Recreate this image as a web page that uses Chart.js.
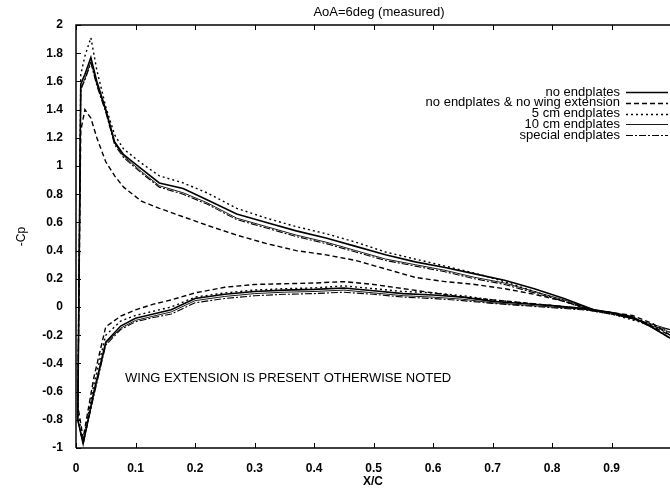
<!DOCTYPE html>
<html>
<head>
<meta charset="utf-8">
<script src="https://cdn.jsdelivr.net/npm/chart.js@4.4.1/dist/chart.umd.min.js"></script>
<style>
  html, body { margin: 0; padding: 0; background: #fff; }
  #wrap { width: 670px; height: 489px; }
</style>
</head>
<body>
<div id="wrap"><canvas id="cp"></canvas></div>
<script>
// upper surface, trailing edge -> leading edge
const xUpper = [0.998, 0.97, 0.935, 0.9, 0.87, 0.82, 0.77, 0.72, 0.67, 0.62, 0.57, 0.52, 0.47, 0.42,
                0.37, 0.32, 0.27, 0.22, 0.18, 0.14, 0.11, 0.08, 0.065, 0.05, 0.035, 0.025, 0.015, 0.008];
// lower surface, leading edge -> trailing edge
const xLower = [0.003, 0.012, 0.03, 0.05, 0.075, 0.1, 0.13, 0.16, 0.2, 0.25, 0.3, 0.35, 0.4, 0.45,
                0.5, 0.55, 0.6, 0.65, 0.7, 0.75, 0.8, 0.85, 0.9, 0.95, 0.998];

const noEndUpper = [-0.22, -0.15, -0.07, -0.04, -0.02, 0.06, 0.13, 0.19, 0.235, 0.28, 0.32, 0.37, 0.43, 0.49,
                    0.54, 0.60, 0.66, 0.76, 0.84, 0.88, 0.98, 1.08, 1.17, 1.40, 1.60, 1.77, 1.65, 1.58];
const noEndLower = [-0.8, -0.97, -0.6, -0.25, -0.135, -0.08, -0.05, -0.02, 0.06, 0.09, 0.11, 0.12, 0.125, 0.135,
                    0.115, 0.095, 0.085, 0.07, 0.04, 0.025, 0.01, -0.01, -0.04, -0.1, -0.22];

const noExtUpper = [-0.2, -0.12, -0.06, -0.04, -0.02, 0.04, 0.09, 0.13, 0.16, 0.18, 0.21, 0.27, 0.33, 0.37,
                    0.40, 0.45, 0.51, 0.58, 0.64, 0.70, 0.75, 0.85, 0.93, 1.03, 1.20, 1.34, 1.40, 1.25];
const noExtLower = [-0.7, -0.93, -0.5, -0.14, -0.065, -0.02, 0.02, 0.05, 0.10, 0.14, 0.16, 0.165, 0.17, 0.18,
                    0.16, 0.13, 0.10, 0.07, 0.05, 0.03, 0.01, -0.01, -0.04, -0.1, -0.2];

const cm5Upper = [-0.18, -0.13, -0.08, -0.05, -0.03, 0.04, 0.11, 0.18, 0.24, 0.29, 0.34, 0.39, 0.46, 0.52,
                  0.57, 0.63, 0.70, 0.81, 0.88, 0.93, 1.02, 1.12, 1.22, 1.42, 1.68, 1.91, 1.78, 1.65];
const cm5Lower = [-0.75, -0.95, -0.55, -0.2, -0.1, -0.06, -0.03, 0.0, 0.07, 0.10, 0.12, 0.13, 0.135, 0.15,
                  0.13, 0.11, 0.10, 0.08, 0.05, 0.03, 0.01, -0.01, -0.05, -0.11, -0.18];

const cm10Upper = [-0.16, -0.14, -0.08, -0.04, -0.02, 0.05, 0.11, 0.17, 0.21, 0.26, 0.30, 0.34, 0.40, 0.46,
                   0.51, 0.57, 0.63, 0.74, 0.81, 0.86, 0.96, 1.07, 1.16, 1.39, 1.58, 1.74, 1.62, 1.55];
const cm10Lower = [-0.8, -0.97, -0.62, -0.26, -0.15, -0.095, -0.065, -0.035, 0.045, 0.075, 0.095, 0.105, 0.11, 0.12,
                   0.10, 0.08, 0.07, 0.055, 0.03, 0.015, 0.0, -0.015, -0.04, -0.1, -0.16];

const specUpper = [-0.22, -0.15, -0.08, -0.05, -0.03, 0.04, 0.10, 0.16, 0.20, 0.25, 0.29, 0.33, 0.39, 0.45,
                   0.50, 0.56, 0.62, 0.73, 0.80, 0.85, 0.95, 1.06, 1.15, 1.38, 1.57, 1.73, 1.61, 1.54];
const specLower = [-0.8, -0.97, -0.63, -0.27, -0.16, -0.105, -0.075, -0.05, 0.03, 0.06, 0.08, 0.09, 0.095, 0.105,
                   0.09, 0.07, 0.06, 0.045, 0.025, 0.01, -0.005, -0.02, -0.04, -0.1, -0.22];

const seriesNames = ['no endplates', 'no endplates & no wing extension', '5 cm endplates',
                     '10 cm endplates', 'special endplates'];
const xTicks = [0, 0.1, 0.2, 0.3, 0.4, 0.5, 0.6, 0.7, 0.8, 0.9];
const yTicks = [-1, -0.8, -0.6, -0.4, -0.2, 0, 0.2, 0.4, 0.6, 0.8, 1, 1.2, 1.4, 1.6, 1.8, 2];

function loop(upper, lower) {
    const pts = xUpper.map((x, i) => ({ x: x, y: upper[i] }));
    return pts.concat(xLower.map((x, i) => ({ x: x, y: lower[i] })));
}

const styles = [
    { width: 1.6, dash: [] },
    { width: 1.4, dash: [5, 3] },
    { width: 1.4, dash: [2, 3] },
    { width: 0.9, dash: [] },
    { width: 1.1, dash: [7, 2, 2, 2] }
];
const curves = [
    loop(noEndUpper, noEndLower),
    loop(noExtUpper, noExtLower),
    loop(cm5Upper, cm5Lower),
    loop(cm10Upper, cm10Lower),
    loop(specUpper, specLower)
];

const fontFam = '"Liberation Sans", Arial, sans-serif';

const extras = {
    id: 'extras',
    afterDraw(chart) {
        const ctx = chart.ctx;
        const a = chart.chartArea;
        const xs = chart.scales.x, ys = chart.scales.y;
        ctx.save();
        ctx.strokeStyle = '#000';
        ctx.lineWidth = 1.5;
        ctx.beginPath();
        ctx.moveTo(a.left, a.bottom);
        ctx.lineTo(a.left, a.top);
        ctx.lineTo(a.right, a.top);
        ctx.moveTo(a.left, a.bottom);
        ctx.lineTo(a.right, a.bottom);
        ctx.stroke();
        // inward ticks
        ctx.lineWidth = 1;
        ctx.beginPath();
        xTicks.forEach(v => {
            const px = Math.round(xs.getPixelForValue(v)) + 0.5;
            ctx.moveTo(px, a.bottom); ctx.lineTo(px, a.bottom - 5);
            ctx.moveTo(px, a.top); ctx.lineTo(px, a.top + 5);
        });
        yTicks.forEach(v => {
            const py = Math.round(ys.getPixelForValue(v)) + 0.5;
            ctx.moveTo(a.left, py); ctx.lineTo(a.left + 5, py);
        });
        ctx.stroke();

        ctx.fillStyle = '#000';
        ctx.textBaseline = 'middle';
        ctx.font = '13px ' + fontFam;
        ctx.textAlign = 'center';
        ctx.fillText('AoA=6deg (measured)', 379, 12);

        // legend
        ctx.textAlign = 'right';
        seriesNames.forEach((name, i) => {
            const y = 92 + i * 10.8;
            ctx.fillText(name, 620, y);
            ctx.save();
            ctx.lineWidth = styles[i].width;
            ctx.setLineDash(styles[i].dash);
            ctx.beginPath();
            ctx.moveTo(626, Math.round(y) + 0.5);
            ctx.lineTo(668, Math.round(y) + 0.5);
            ctx.stroke();
            ctx.restore();
        });

        ctx.textAlign = 'left';
        ctx.font = '13px ' + fontFam;
        ctx.fillText('WING EXTENSION IS PRESENT OTHERWISE NOTED', 125, 378);
        ctx.restore();
    }
};

new Chart(document.getElementById('cp'), {
    type: 'scatter',
    data: {
        datasets: curves.map((pts, i) => ({
            label: seriesNames[i],
            data: pts,
            showLine: true,
            borderColor: '#000',
            borderWidth: styles[i].width,
            borderDash: styles[i].dash,
            pointRadius: 0,
            tension: 0,
            fill: false
        }))
    },
    options: {
        responsive: true,
        maintainAspectRatio: false,
        animation: false,
        layout: { padding: { top: 25, right: 0, left: 0, bottom: 0 } },
        plugins: {
            legend: { display: false },
            tooltip: { enabled: false }
        },
        scales: {
            x: {
                type: 'linear',
                min: 0,
                max: 0.998,
                grid: { display: false },
                border: { display: false },
                afterBuildTicks: s => { s.ticks = xTicks.map(v => ({ value: v })); },
                afterFit: s => { s.height = 41; },
                ticks: {
                    color: '#000',
                    padding: 5,
                    font: { family: fontFam, size: 12, weight: 'bold' },
                    maxRotation: 0,
                    callback: v => String(+v.toFixed(1))
                },
                title: {
                    display: true,
                    text: 'X/C',
                    color: '#000',
                    padding: { top: -4, bottom: 0 },
                    font: { family: fontFam, size: 12, weight: 'bold' }
                }
            },
            y: {
                min: -1,
                max: 2,
                grid: { display: false },
                border: { display: false },
                afterBuildTicks: s => { s.ticks = yTicks.map(v => ({ value: v })); },
                afterFit: s => { s.width = 76; },
                ticks: {
                    color: '#000',
                    padding: 5,
                    font: { family: fontFam, size: 12, weight: 'bold' },
                    callback: v => String(+v.toFixed(1))
                },
                title: {
                    display: true,
                    text: '-Cp',
                    color: '#000',
                    padding: { top: 14, bottom: 0 },
                    font: { family: fontFam, size: 12 }
                }
            }
        }
    },
    plugins: [extras]
});
</script>
</body>
</html>
